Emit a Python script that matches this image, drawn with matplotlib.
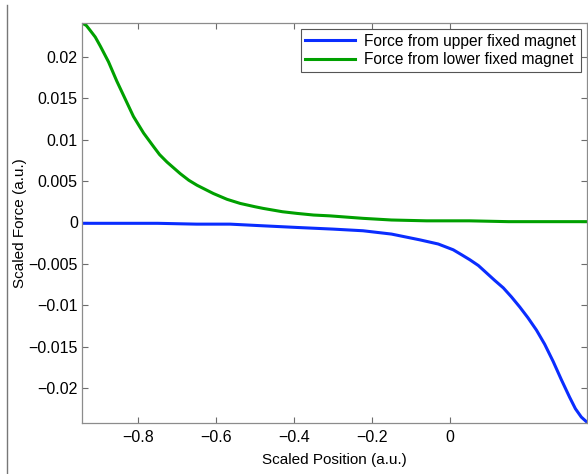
import matplotlib
matplotlib.use("Agg")
import matplotlib.pyplot as plt
from matplotlib.lines import Line2D

plt.rcParams['font.family'] = ['Liberation Sans', 'DejaVu Sans']

# values
upper_x = [-0.944, -0.85, -0.75, -0.65, -0.564, -0.48, -0.393, -0.30, -0.223, -0.15, -0.077,
           -0.03, 0.0085, 0.03, 0.051, 0.073, 0.094, 0.115, 0.137, 0.158, 0.179, 0.20,
           0.222, 0.243, 0.265, 0.286, 0.307, 0.322, 0.337, 0.351]
upper_y = [-0.0001, -0.0001, -0.0001, -0.0002, -0.0002, -0.0004, -0.0006, -0.0008, -0.0010,
           -0.0014, -0.0021, -0.0026, -0.0033, -0.0039, -0.0045, -0.0052, -0.0061, -0.0070,
           -0.0079, -0.0090, -0.0102, -0.0115, -0.0130, -0.0147, -0.0168, -0.0190, -0.0211,
           -0.0225, -0.0235, -0.0241]

lower_x = [-0.944, -0.933, -0.923, -0.91, -0.897, -0.876, -0.855, -0.833, -0.812, -0.786,
           -0.761, -0.745, -0.726, -0.709, -0.692, -0.67, -0.649, -0.628, -0.607, -0.572,
           -0.538, -0.50, -0.479, -0.43, -0.393, -0.35, -0.308, -0.223, -0.15, -0.06, 0.05,
           0.15, 0.25, 0.351]
lower_y = [0.0241, 0.0238, 0.0232, 0.0224, 0.0213, 0.0194, 0.0171, 0.0149, 0.0128, 0.0108,
           0.0092, 0.0082, 0.0073, 0.0066, 0.0059, 0.0051, 0.0045, 0.0040, 0.0035, 0.0028,
           0.0023, 0.0019, 0.0017, 0.0013, 0.0011, 0.0009, 0.0008, 0.0005, 0.0003, 0.0002,
           0.0002, 0.0001, 0.0001, 0.0001]

xticks = [-0.8, -0.6, -0.4, -0.2, 0]
xtick_labels = ['\u22120.8', '\u22120.6', '\u22120.4', '\u22120.2', '0']
yticks = [0.02, 0.015, 0.01, 0.005, 0, -0.005, -0.01, -0.015, -0.02]
ytick_labels = ['0.02', '0.015', '0.01', '0.005', '0', '\u22120.005', '\u22120.01',
                '\u22120.015', '\u22120.02']

fig = plt.figure(figsize=(5.88, 4.74), dpi=100)
ax = fig.add_axes([0.1395, 0.108, 0.859, 0.8435])

ax.plot(upper_x, upper_y, color='#0a2dff', lw=2.2, solid_joinstyle='round',
        label='Force from upper fixed magnet')
ax.plot(lower_x, lower_y, color='#00a000', lw=2.2, solid_joinstyle='round',
        label='Force from lower fixed magnet')

ax.set_xlim(-0.944, 0.352)
ax.set_ylim(-0.0242, 0.0241)
ax.set_xticks(xticks)
ax.set_xticklabels(xtick_labels)
ax.set_yticks(yticks)
ax.set_yticklabels(ytick_labels)

for s in ax.spines.values():
    s.set_color('#8c8c8c')
    s.set_linewidth(0.9)
ax.tick_params(direction='in', length=4, width=0.8, color='#6c6c6c', labelsize=11.5,
               top=True, right=True)
ax.tick_params(axis='x', pad=5)
ax.tick_params(axis='y', pad=3)

ax.set_xlabel('Scaled Position (a.u.)', fontsize=11, labelpad=6)
ax.set_ylabel('Scaled Force (a.u.)', fontsize=11, labelpad=1)

leg = ax.legend(loc='upper right', fontsize=11.2, fancybox=False, framealpha=1,
                edgecolor='#555555', handlelength=3.2, handletextpad=0.6, borderpad=0.3,
                labelspacing=0.2, borderaxespad=0.4)
leg.get_frame().set_linewidth(0.8)

# thin border line at the left edge of the picture
fig.add_artist(Line2D([0.012, 0.012], [0.0, 0.99], transform=fig.transFigure,
                      color='#777777', lw=1.0))

fig.savefig('out.png', dpi=100)
